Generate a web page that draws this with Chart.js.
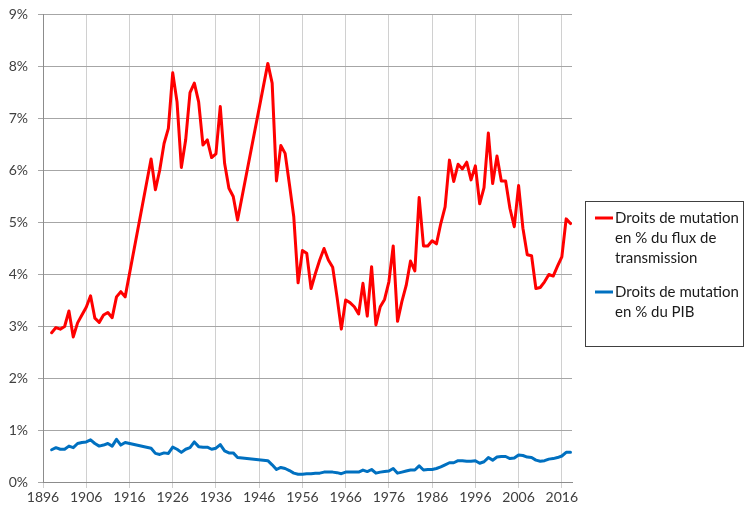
<!DOCTYPE html>
<html><head><meta charset="utf-8">
<script src="https://cdn.jsdelivr.net/npm/chart.js@4.4.1/dist/chart.umd.min.js"></script>
<style>html,body{margin:0;padding:0;background:#fff;}#wrap{width:745px;height:509px;position:relative;}</style>
</head><body><div id="wrap"><canvas id="c" width="745" height="509"></canvas></div>
<script>
const years = [1898,1899,1900,1901,1902,1903,1904,1905,1906,1907,1908,1909,1910,1911,1912,1913,1914,1915,
  1921,1922,1923,1924,1925,1926,1927,1928,1929,1930,1931,1932,1933,1934,1935,1936,1937,1938,1939,1940,1941,
  1948,1949,1950,1951,1952,1953,1954,1955,1956,1957,
  1958,1959,1960,1961,1962,1963,1964,1965,1966,1967,
  1968,1969,1970,1971,1972,1973,1974,1975,1976,1977,
  1978,1979,1980,1981,1982,1983,1984,1985,1986,1987,
  1988,1989,1990,1991,1992,1993,1994,1995,1996,1997,
  1998,1999,2000,2001,2002,2003,2004,2005,2006,2007,
  2008,2009,2010,2011,2012,2013,2014,2015,2016,2017,2018];
const fluxPct = [2.87,2.97,2.94,2.99,3.29,2.79,3.06,3.21,3.36,3.58,3.15,3.07,3.21,3.26,3.16,3.56,3.66,3.56,
  6.21,5.62,6.00,6.51,6.80,7.87,7.31,6.05,6.58,7.49,7.67,7.31,6.48,6.58,6.24,6.31,7.22,6.13,5.65,5.49,5.04,
  8.05,7.67,5.79,6.47,6.32,5.72,5.10,3.83,4.45,4.40,
  3.72,4.01,4.27,4.49,4.27,4.13,3.56,2.94,3.50,3.45,
  3.37,3.23,3.82,3.19,4.14,3.02,3.37,3.51,3.85,4.54,
  3.09,3.47,3.78,4.25,4.06,5.47,4.54,4.54,4.64,4.58,
  4.97,5.29,6.19,5.78,6.11,6.02,6.15,5.81,6.08,5.35,
  5.66,6.71,5.74,6.27,5.79,5.79,5.26,4.91,5.70,4.88,
  4.37,4.35,3.72,3.74,3.85,3.99,3.96,4.15,4.33,5.06,4.97];
const pibPct = [0.62,0.66,0.63,0.63,0.69,0.66,0.74,0.76,0.77,0.81,0.74,0.69,0.71,0.74,0.69,0.82,0.71,0.76,
  0.65,0.55,0.53,0.56,0.55,0.67,0.63,0.57,0.63,0.66,0.77,0.68,0.67,0.67,0.63,0.65,0.72,0.60,0.56,0.56,0.47,
  0.41,0.33,0.24,0.28,0.26,0.22,0.17,0.15,0.15,0.16,
  0.16,0.17,0.17,0.19,0.19,0.19,0.18,0.16,0.19,0.19,
  0.19,0.19,0.23,0.20,0.24,0.17,0.19,0.20,0.21,0.26,
  0.17,0.19,0.21,0.23,0.23,0.31,0.23,0.24,0.24,0.26,
  0.29,0.33,0.37,0.37,0.41,0.41,0.40,0.40,0.41,0.36,
  0.39,0.47,0.42,0.48,0.49,0.49,0.45,0.46,0.52,0.51,
  0.48,0.47,0.42,0.40,0.41,0.44,0.45,0.47,0.50,0.57,0.57];
const xTickYears = [1896,1906,1916,1926,1936,1946,1956,1966,1976,1986,1996,2006,2016];
const yTickValues = [0,1,2,3,4,5,6,7,8,9];
const seriesNames = ['Droits de mutation en % du flux de transmission','Droits de mutation en % du PIB'];
const legendLines = [['Droits de mutation','en % du flux de','transmission'],['Droits de mutation','en % du PIB']];

const FONT = 'Lato, "Liberation Sans", sans-serif';

const toPts = vals => years.map((y,i)=>({x:y,y:vals[i]}));

const boxLegend = {
  id:'boxLegend',
  afterDraw(chart){
    const ctx = chart.ctx;
    ctx.save();
    ctx.strokeStyle = '#404040';
    ctx.lineWidth = 1;
    ctx.strokeRect(585.5, 201.5, 158, 145);
    const starts = [218, 292];
    chart.data.datasets.forEach((ds, i) => {
      const y0 = starts[i];
      ctx.strokeStyle = ds.borderColor;
      ctx.lineWidth = 3;
      ctx.beginPath(); ctx.moveTo(595, y0); ctx.lineTo(613, y0); ctx.stroke();
      ctx.fillStyle = '#1a1a1a';
      ctx.font = '15px ' + FONT;
      ctx.textBaseline = 'middle';
      ctx.textAlign = 'left';
      legendLines[i].forEach((t, k) => ctx.fillText(t, 615, y0 + k * 20));
    });
    ctx.restore();
  }
};

new Chart(document.getElementById('c'), {
  type: 'line',
  data: {
    datasets: [
      {label: seriesNames[0], data: toPts(fluxPct), borderColor: '#ff0000', borderWidth: 3, pointRadius: 0, tension: 0, borderJoinStyle:'round', borderCapStyle:'round', fill:false},
      {label: seriesNames[1], data: toPts(pibPct), borderColor: '#0070c0', borderWidth: 3, pointRadius: 0, tension: 0, borderJoinStyle:'round', borderCapStyle:'round', fill:false}
    ]
  },
  options: {
    responsive: false,
    animation: false,
    devicePixelRatio: 1,
    layout: {padding: {top: 14, right: 173, bottom: 0, left: 0}},
    plugins: {legend: {display: false}, tooltip: {enabled: false}},
    scales: {
      x: {
        type: 'linear', min: 1896, max: 2018.35,
        afterBuildTicks: s => { s.ticks = xTickYears.map(v => ({value: v})); },
        afterFit: s => { s.height = 27; },
        grid: {color: '#d0d0d0', lineWidth: 1, tickLength: 6, drawTicks: true},
        border: {color: '#8c8c8c', width: 1},
        ticks: {color: '#404040', font: {family: FONT, size: 14}, padding: 1, maxRotation: 0, autoSkip: false, callback: v => String(v)}
      },
      y: {
        min: 0, max: 9,
        afterBuildTicks: s => { s.ticks = yTickValues.map(v => ({value: v})); },
        afterFit: s => { s.width = 43; },
        grid: {color: '#a6a6a6', lineWidth: 1, tickLength: 5},
        border: {color: '#8c8c8c', width: 1},
        ticks: {color: '#404040', font: {family: FONT, size: 14, lineHeight: 0.5}, padding: 10, callback: v => v + '%'}
      }
    }
  },
  plugins: [boxLegend]
});
</script></body></html>
